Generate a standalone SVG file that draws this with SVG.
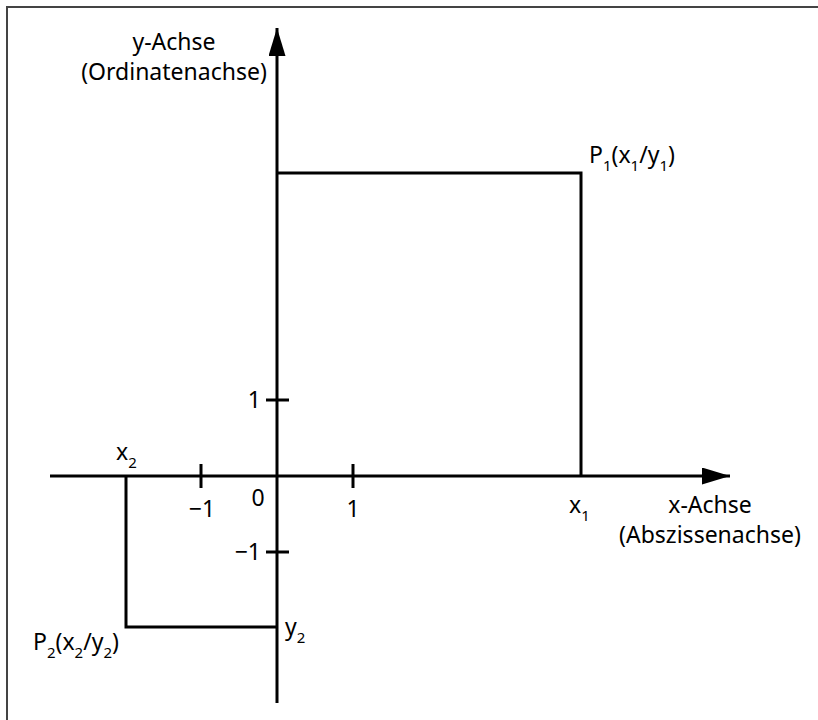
<svg xmlns="http://www.w3.org/2000/svg" width="818" height="720" viewBox="0 0 818 720">
<style>
.ln{stroke:#000;stroke-width:3;fill:none}
.fr{stroke:#444;stroke-width:2;fill:none}
text{font-family:"Noto Sans","Open Sans","DejaVu Sans",sans-serif;font-size:23px;fill:#000}
.s{font-size:15px}
.m{text-anchor:middle}
</style>
<defs>
<marker id="ah" markerUnits="userSpaceOnUse" markerWidth="30" markerHeight="18" refX="28" refY="8.5" orient="auto">
<path d="M0,0 L28,8.5 L0,17 Z" fill="#000"/>
</marker>
</defs>
<rect width="818" height="720" fill="#fff"/>
<path class="fr" d="M7,720 V7 H818"/>
<g id="connectors">
<line id="x-axis" class="ln" x1="50" y1="476" x2="730" y2="476" marker-end="url(#ah)"/>
<line id="y-axis" class="ln" x1="277" y1="703" x2="277" y2="28" marker-end="url(#ah)"/>
<path id="p1-lines" class="ln" d="M277,173 H581 V476"/>
<path id="p2-lines" class="ln" d="M126,476 V627 H277"/>
<g id="ticks">
<line class="ln" x1="201" y1="464" x2="201" y2="488"/>
<line class="ln" x1="353" y1="464" x2="353" y2="488"/>
<line class="ln" x1="266" y1="400" x2="289" y2="400"/>
<line class="ln" x1="266" y1="552" x2="289" y2="552"/>
</g>
</g>
<g id="y-axis-label">
<text class="m" x="174" y="50">y-Achse</text>
<text class="m" x="174" y="80">(Ordinatenachse)</text>
</g>
<g id="x-axis-label">
<text class="m" x="710" y="513">x-Achse</text>
<text class="m" x="710" y="543">(Abszissenachse)</text>
</g>
<g id="P1">
<text x="589" y="163">P<tspan class="s" dy="8">1</tspan><tspan dy="-8">(x</tspan><tspan class="s" dy="8">1</tspan><tspan dy="-8">/y</tspan><tspan class="s" dy="8">1</tspan><tspan dy="-8">)</tspan></text>
</g>
<g id="P2">
<text x="33" y="650">P<tspan class="s" dy="8">2</tspan><tspan dy="-8">(x</tspan><tspan class="s" dy="8">2</tspan><tspan dy="-8">/y</tspan><tspan class="s" dy="8">2</tspan><tspan dy="-8">)</tspan></text>
</g>
<g id="x1-label"><text x="569" y="513">x<tspan class="s" dy="8">1</tspan></text></g>
<g id="x2-label"><text x="116" y="460">x<tspan class="s" dy="8">2</tspan></text></g>
<g id="y2-label"><text x="285" y="635">y<tspan class="s" dy="8">2</tspan></text></g>
<g id="tick-labels">
<text class="m" x="202" y="517">−1</text>
<text class="m" x="258" y="506">0</text>
<text class="m" x="353" y="517">1</text>
<text x="261" y="408" text-anchor="end">1</text>
<text x="261" y="560" text-anchor="end">−1</text>
</g>
</svg>
